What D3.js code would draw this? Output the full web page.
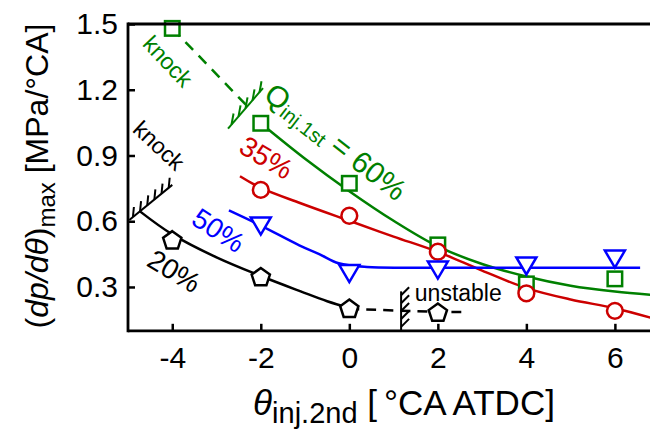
<!DOCTYPE html>
<html>
<head>
<meta charset="utf-8">
<script src="https://cdn.jsdelivr.net/npm/d3@7"></script>
<style>
  body { margin: 0; background: #fff; }
  svg { display: block; }
  text { font-family: "Liberation Sans", Arial, Helvetica, sans-serif; }
</style>
</head>
<body>
<svg id="chart" width="650" height="435"></svg>
<script>
// ---- data -------------------------------------------------------------
const xTicks = [-4, -2, 0, 2, 4, 6];
const yTicks = [0.3, 0.6, 0.9, 1.2, 1.5];

// measured (dp/dθ)max for each first-injection fraction
const q60X = [-4, -2, 0, 2, 4, 6];
const q60Y = [1.48, 1.047, 0.773, 0.492, 0.314, 0.337];
const q35X = [-2, 0, 2, 4, 6];
const q35Y = [0.743, 0.625, 0.461, 0.271, 0.191];
const q50X = [-2, 0, 2, 4, 6];
const q50Y = [0.579, 0.362, 0.378, 0.397, 0.428];
const q20X = [-4, -2, 0, 2];
const q20Y = [0.515, 0.347, 0.203, 0.185];

// trend curves
const fit60 = [[-2, 1.047], [-1, 0.885], [0, 0.737], [1, 0.602], [2, 0.485], [3, 0.405], [4, 0.348], [5, 0.306], [6, 0.279], [6.8, 0.264]];
const fit35 = [[-2.47, 0.805], [-2, 0.752], [-1.1, 0.682], [0, 0.602], [1, 0.53], [2, 0.46], [3, 0.375], [4, 0.295], [5, 0.243], [6, 0.203], [6.8, 0.16]];
const fit50 = [[-2.72, 0.649], [-2, 0.58], [-1.13, 0.49], [-0.68, 0.45], [-0.24, 0.408], [0.4, 0.391], [1.5, 0.388], [6.57, 0.388]];
const fit20 = [[-4.73, 0.645], [-4, 0.54], [-3, 0.435], [-2, 0.35], [-1.1, 0.28], [-0.5, 0.235], [0, 0.205]];
// dashed extensions
const knock60Dash = [[-4, 1.48], [-2.31, 1.126]];
const unstable20Dash = [[0, 0.2], [2, 0.187], [2.66, 0.186]];

// limit lines (knock / unstable boundaries)
const knock60Limit = [[-2.74, 1.023], [-1.95, 1.207]];
const knock20Limit = [[-4.97, 0.606], [-4.0, 0.766]];
const unstableLimit = [[1.17, 0.1], [1.17, 0.28]];

const colors = { q60: "#008000", q35: "#cc0000", q50: "#0000ff", q20: "#000000" };

// ---- layout -------------------------------------------------------------
const svg = d3.select("#chart");
const x = d3.scaleLinear().domain([-5, 6.8]).range([128, 650.3]);
const y = d3.scaleLinear().domain([0.1, 1.5]).range([330.8, 24]);

const plot = svg.append("g");

// trend lines
const line = d3.line().x(d => x(d[0])).y(d => y(d[1])).curve(d3.curveCatmullRom.alpha(0.5));
const straight = d3.line().x(d => x(d[0])).y(d => y(d[1]));

[[fit60, colors.q60], [fit35, colors.q35], [fit50, colors.q50], [fit20, colors.q20]].forEach(([pts, c]) => {
  plot.append("path").attr("d", line(pts)).attr("fill", "none")
    .attr("stroke", c).attr("stroke-width", 2.5);
});

plot.append("path").attr("d", straight(knock60Dash)).attr("fill", "none")
  .attr("stroke", colors.q60).attr("stroke-width", 2.5).attr("stroke-dasharray", "11,8");
plot.append("path").attr("d", line(unstable20Dash)).attr("fill", "none")
  .attr("stroke", "#000").attr("stroke-width", 2.5).attr("stroke-dasharray", "10,7");

// hatched boundary: base line with short ticks on one side
function hatch(pts, color, n, dx, dy) {
  const g = plot.append("g").attr("stroke", color).attr("stroke-width", 2).attr("fill", "none");
  const x0 = x(pts[0][0]), y0 = y(pts[0][1]), x1 = x(pts[1][0]), y1 = y(pts[1][1]);
  g.append("line").attr("x1", x0).attr("y1", y0).attr("x2", x1).attr("y2", y1);
  d3.range(n).forEach(i => {
    const t = (i + 0.5) / n;
    const px = x0 + (x1 - x0) * t, py = y0 + (y1 - y0) * t;
    g.append("line").attr("x1", px).attr("y1", py).attr("x2", px + dx).attr("y2", py + dy);
  });
}
hatch(knock60Limit, colors.q60, 5, 2, -11);
hatch(knock20Limit, "#000", 6, 1, -10);
hatch(unstableLimit, "#000", 5, 8, -8);

// markers
const sq = 14.5;
function squares(xs, ys, c) {
  plot.selectAll(null).data(xs).enter().append("rect")
    .attr("x", (d) => x(d) - sq / 2).attr("y", (d, i) => y(ys[i]) - sq / 2)
    .attr("width", sq).attr("height", sq)
    .attr("fill", "#fff").attr("stroke", c).attr("stroke-width", 2.5);
}
function circles(xs, ys, c) {
  plot.selectAll(null).data(xs).enter().append("circle")
    .attr("cx", d => x(d)).attr("cy", (d, i) => y(ys[i])).attr("r", 7.9)
    .attr("fill", "#fff").attr("stroke", c).attr("stroke-width", 2.5);
}
const triPath = "M-10,-8.3L10,-8.3L0,8.7Z";
function triangles(xs, ys, c) {
  plot.selectAll(null).data(xs).enter().append("path")
    .attr("d", triPath)
    .attr("transform", (d, i) => `translate(${x(d)},${y(ys[i])})`)
    .attr("fill", "#fff").attr("stroke", c).attr("stroke-width", 2.5);
}
const R = 9.6;
const pentPath = "M" + d3.range(5).map(k => {
  const a = -Math.PI / 2 + k * 2 * Math.PI / 5;
  return [R * Math.cos(a), R * Math.sin(a) + 0.9].map(v => v.toFixed(2)).join(",");
}).join("L") + "Z";
function pentagons(xs, ys, c) {
  plot.selectAll(null).data(xs).enter().append("path")
    .attr("d", pentPath)
    .attr("transform", (d, i) => `translate(${x(d)},${y(ys[i])})`)
    .attr("fill", "#fff").attr("stroke", c).attr("stroke-width", 2.5);
}
squares(q60X, q60Y, colors.q60);
circles(q35X, q35Y, colors.q35);
triangles(q50X, q50Y, colors.q50);
pentagons(q20X, q20Y, colors.q20);

// ---- axes ---------------------------------------------------------------
const axes = svg.append("g").attr("stroke", "#000").attr("stroke-width", 2.8).attr("fill", "none");
axes.append("line").attr("x1", x(-5)).attr("x2", 650).attr("y1", y(1.5)).attr("y2", y(1.5));
axes.append("line").attr("x1", x(-5)).attr("x2", 650).attr("y1", y(0.1)).attr("y2", y(0.1));
axes.append("line").attr("x1", x(-5)).attr("x2", x(-5)).attr("y1", y(1.5) - 1.4).attr("y2", y(0.1) + 1.4);

const xAxis = d3.axisBottom(x).tickValues(xTicks).tickSize(-7).tickPadding(16).tickFormat(d3.format("d"));
const gx = svg.append("g").attr("transform", `translate(0,${y(0.1)})`).call(xAxis);
const yAxis = d3.axisLeft(y).tickValues(yTicks).tickSize(-7).tickPadding(10).tickFormat(d3.format(".1f"));
const gy = svg.append("g").attr("transform", `translate(${x(-5)},0)`).call(yAxis);
[gx, gy].forEach(g => {
  g.select(".domain").remove();
  g.selectAll(".tick line").attr("stroke", "#000").attr("stroke-width", 2.5);
  g.selectAll(".tick text").attr("fill", "#000").attr("font-size", 30)
    .attr("font-family", "Liberation Sans, Arial, sans-serif");
});
gx.selectAll(".tick text").text(d => d < 0 ? "-" + Math.abs(d) : d);

// axis titles
const xt = svg.append("text").attr("x", 404).attr("y", 415).attr("text-anchor", "middle")
  .attr("font-size", 35).attr("fill", "#000");
xt.append("tspan").attr("font-style", "italic").text("θ");
xt.append("tspan").attr("font-size", 29).attr("dy", 8).text("inj.2nd");
xt.append("tspan").attr("dy", -8).text(" [\u2009°CA ATDC]");

const yt = svg.append("text").attr("transform", "translate(48,176) rotate(-90)")
  .attr("text-anchor", "middle").attr("font-size", 32).attr("fill", "#000");
yt.append("tspan").text("(");
yt.append("tspan").attr("font-style", "italic").text("dp/dθ");
yt.append("tspan").text(")");
yt.append("tspan").attr("font-size", 24).attr("dy", 7).text("max");
yt.append("tspan").attr("dy", -7).text(" [MPa/°CA]");

// ---- annotations ------------------------------------------------------------
function label(txt, px, py, angle, color, size) {
  return svg.append("text")
    .attr("transform", `translate(${px},${py}) rotate(${angle})`)
    .attr("text-anchor", "middle").attr("dominant-baseline", "central")
    .attr("font-size", size).attr("fill", color).text(txt);
}
label("knock", x(-4.1), y(1.33), 47, colors.q60, 23);
label("knock", x(-4.3), y(0.945), 43, "#000", 23);
label("35%", x(-1.88), y(0.89), 31, colors.q35, 28);
label("50%", x(-2.96), y(0.557), 33, colors.q50, 28);
label("20%", x(-3.96), y(0.372), 31, "#000", 28);

const ql = svg.append("text")
  .attr("transform", `translate(${x(-0.3)},${y(0.965)}) rotate(38)`)
  .attr("text-anchor", "middle").attr("dominant-baseline", "central")
  .attr("fill", colors.q60).attr("font-size", 30);
ql.append("tspan").text("Q");
ql.append("tspan").attr("font-size", 20).attr("dy", 8).text("inj.1st");
ql.append("tspan").attr("dy", -8).text(" = 60%");

svg.append("text").attr("x", x(1.48)).attr("y", y(0.236)).attr("font-size", 23)
  .attr("fill", "#000").text("unstable");
</script>
</body>
</html>
